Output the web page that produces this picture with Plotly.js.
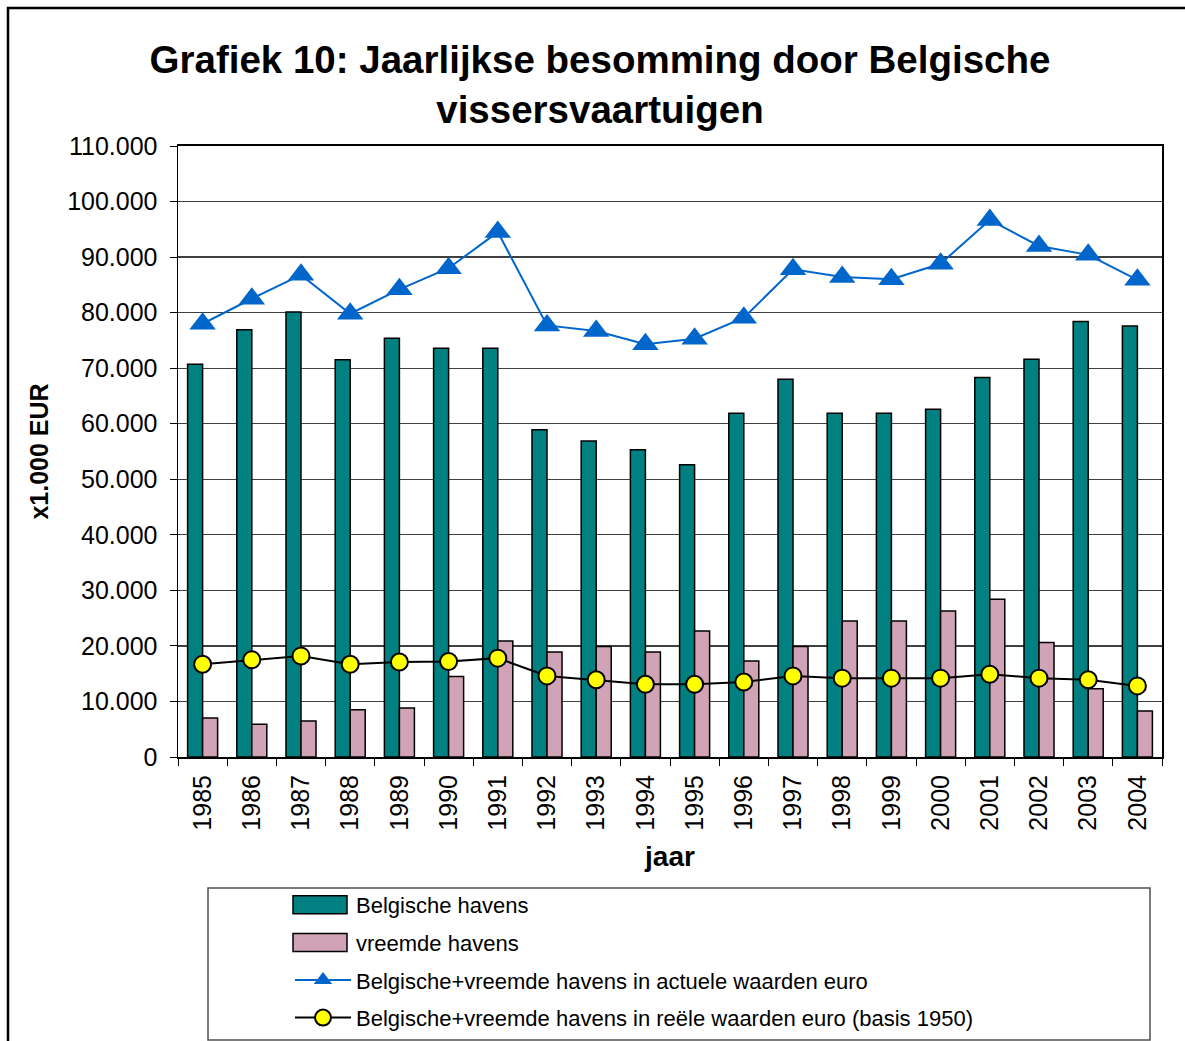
<!DOCTYPE html>
<html>
<head>
<meta charset="utf-8">
<script src="https://cdn.plot.ly/plotly-3.0.1.min.js"></script>
<style>
html,body{margin:0;padding:0;background:#fff;}
#chart{width:1185px;height:1041px;}
</style>
</head>
<body>
<div id="chart"></div>
<script>
// Data
const years = ['1985','1986','1987','1988','1989','1990','1991','1992','1993','1994','1995','1996','1997','1998','1999','2000','2001','2002','2003','2004'];
const belgischeHavens = [70700,76900,80100,71500,75400,73600,73600,58900,56900,55300,52600,61900,68000,61900,61900,62600,68300,71600,78400,77600];
const vreemdeHavens = [7000,5900,6500,8500,8800,14500,20900,18900,19900,18900,22700,17300,19900,24500,24500,26300,28400,20600,12300,8300];
const actueleWaarden = [78000,82500,86800,79800,84200,88000,94500,77700,76700,74300,75300,79100,87800,86400,86000,88800,96700,92000,90400,85900];
const reeleWaarden = [16700,17500,18200,16700,17100,17200,17800,14600,13900,13100,13100,13500,14600,14200,14200,14200,14900,14200,13900,12800];
const yTicks = [0,10000,20000,30000,40000,50000,60000,70000,80000,90000,100000,110000];

const FONT = '"Liberation Sans", Arial, sans-serif';

// plot area pixel geometry
const W = 1185, H = 1041;
const L = 178, R = 1162, T = 146, B = 757;
const px = v => (v - L) / (R - L);
const py = v => (B - v) / (B - T);

const traces = [
  {
    type: 'bar', name: 'Belgische havens', x: years, y: belgischeHavens,
    marker: {color: '#008080', line: {color: '#000000', width: 1.5}},
    legendgroup: 'a'
  },
  {
    type: 'bar', name: 'vreemde havens', x: years, y: vreemdeHavens,
    marker: {color: '#D0A3B6', line: {color: '#000000', width: 1.5}},
    legendgroup: 'b'
  },
  {
    type: 'scatter', mode: 'lines+markers', name: 'Belgische+vreemde havens in actuele waarden euro',
    x: years, y: actueleWaarden,
    line: {color: '#0066CC', width: 2},
    marker: {symbol: 'triangle-up', size: 23, color: '#0066CC', line: {width: 0}},
    legendgroup: 'c'
  },
  {
    type: 'scatter', mode: 'lines+markers', name: 'Belgische+vreemde havens in reële waarden euro (basis 1950)',
    x: years, y: reeleWaarden,
    line: {color: '#000000', width: 2},
    marker: {symbol: 'circle', size: 17, color: '#FFFF00', line: {color: '#000000', width: 2}},
    legendgroup: 'd'
  }
];

const layout = {
  width: W, height: H,
  margin: {l: L, r: W - R, t: T, b: H - B, pad: 0},
  paper_bgcolor: '#ffffff', plot_bgcolor: '#ffffff',
  separators: ',.',
  font: {family: FONT, color: '#000000', size: 22},
  barmode: 'group', bargap: 0.39, bargroupgap: 0,
  title: {
    text: '<b>Grafiek 10: Jaarlijkse besomming door Belgische<br>vissersvaartuigen</b>',
    font: {family: FONT, size: 38.5, color: '#000000'},
    xref: 'container', yref: 'container',
    x: 600 / W, xanchor: 'center',
    y: 1 - 73 / H, yanchor: 'middle'
  },
  xaxis: {
    type: 'category',
    range: [-0.5, 19.5],
    tickangle: -90,
    tickson: 'boundaries',
    ticks: 'outside', ticklen: 7, tickcolor: '#000000', tickwidth: 1,
    ticklabelstandoff: 6,
    showline: true, linecolor: '#000000', linewidth: 2, mirror: true,
    showgrid: false, zeroline: false,
    tickfont: {family: FONT, size: 25, color: '#000000'},
    title: {text: '<b>jaar</b>', font: {family: FONT, size: 28, color: '#000000'}, standoff: 17},
    automargin: false, fixedrange: true
  },
  yaxis: {
    range: [0, 110000],
    tickvals: yTicks,
    tickformat: ',d',
    ticks: 'outside', ticklen: 7, tickcolor: '#000000', tickwidth: 1,
    ticklabelstandoff: 7,
    showline: true, linecolor: '#000000', linewidth: 1.5, mirror: true,
    showgrid: true, gridcolor: '#404040', gridwidth: 1.2,
    zeroline: false,
    tickfont: {family: FONT, size: 25, color: '#000000'},
    title: {text: '<b>x1.000 EUR</b>', font: {family: FONT, size: 25, color: '#000000'}, standoff: 11},
    automargin: false, fixedrange: true
  },
  legend: {
    orientation: 'v',
    xref: 'paper', x: px(290), xanchor: 'left',
    yref: 'container', y: 1 - 884 / H, yanchor: 'top',
    bgcolor: 'rgba(0,0,0,0)', borderwidth: 0,
    font: {family: FONT, size: 22, color: '#000000'},
    itemwidth: 56,
    tracegroupgap: 6,
    traceorder: 'grouped'
  },
  shapes: [
    {type: 'rect', xref: 'paper', yref: 'paper',
     x0: px(208), x1: px(1150), y0: py(1040), y1: py(888),
     line: {color: '#505050', width: 1.5}, fillcolor: 'rgba(0,0,0,0)', layer: 'below'},
    {type: 'rect', xref: 'paper', yref: 'paper',
     x0: px(8), x1: px(1200), y0: py(1060), y1: py(8),
     line: {color: '#000000', width: 2.5}, fillcolor: 'rgba(0,0,0,0)', layer: 'below'}
  ],
  showlegend: true
};

function widenSwatches(gd) {
  // widen the bar legend swatches to Excel-like rectangles
  gd.querySelectorAll('.legend .legendpoints path').forEach(p => {
    const d = (p.getAttribute('d') || '').replace(/\s/g, '');
    if (d === 'M6,6H-6V-6H6Z' || p.classList.contains('legendbar')) {
      p.setAttribute('d', 'M24,9H-30V-9H24Z');
    }
  });
}

Plotly.newPlot('chart', traces, layout, {displayModeBar: false, staticPlot: true}).then(gd => {
  widenSwatches(gd);
  gd.on('plotly_afterplot', () => widenSwatches(gd));
  setTimeout(() => widenSwatches(gd), 50);
  setTimeout(() => widenSwatches(gd), 300);
});
</script>
</body>
</html>
